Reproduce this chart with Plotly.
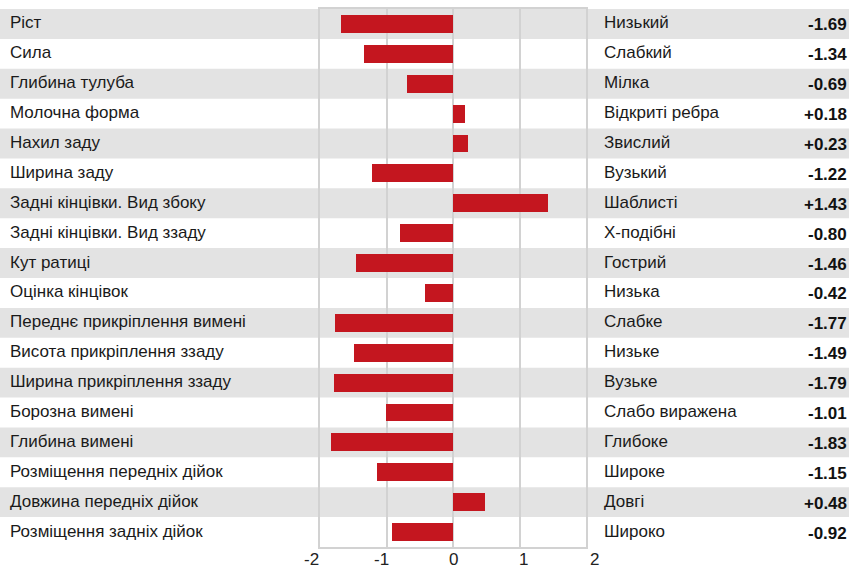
import plotly.graph_objects as go

traits = ["Ріст", "Сила", "Глибина тулуба", "Молочна форма", "Нахил заду", "Ширина заду",
          "Задні кінцівки. Вид збоку", "Задні кінцівки. Вид ззаду", "Кут ратиці", "Оцінка кінцівок",
          "Переднє прикріплення вимені", "Висота прикріплення ззаду", "Ширина прикріплення ззаду",
          "Борозна вимені", "Глибина вимені", "Розміщення передніх дійок", "Довжина передніх дійок",
          "Розміщення задніх дійок"]
descriptors = ["Низький", "Слабкий", "Мілка", "Відкриті ребра", "Звислий", "Вузький", "Шаблисті",
               "Х-подібні", "Гострий", "Низька", "Слабке", "Низьке", "Вузьке", "Слабо виражена",
               "Глибоке", "Широке", "Довгі", "Широко"]
values = [-1.69, -1.34, -0.69, 0.18, 0.23, -1.22, 1.43, -0.80, -1.46, -0.42, -1.77, -1.49, -1.79,
          -1.01, -1.83, -1.15, 0.48, -0.92]
x_ticks = [-2, -1, 0, 1, 2]

W, H = 849, 569
ML, MR, MT, MB = 320, 263, 7, 22
PW = W - ML - MR
FAM = "Liberation Sans, Arial, sans-serif"

def px2paper(px):
    return (px - ML) / PW

idx = list(range(len(traits)))

fig = go.Figure(go.Bar(
    x=values, y=idx, orientation="h", width=0.6,
    marker=dict(color="#c4161f", line=dict(width=0)),
    hoverinfo="skip",
))

shapes = []
for i in idx:
    if i % 2 == 0:
        shapes.append(dict(type="rect", xref="paper", yref="y",
                           x0=px2paper(0), x1=px2paper(W), y0=i - 0.5, y1=i + 0.5,
                           fillcolor="#e3e3e3", line=dict(width=0), layer="below"))

annotations = []
font = dict(family=FAM, size=17, color="#1a1a1a")
for i in idx:
    annotations.append(dict(xref="paper", yref="y", x=px2paper(8), y=i, text=traits[i],
                            showarrow=False, xanchor="left", yanchor="middle", yshift=1, font=font))
    annotations.append(dict(xref="paper", yref="y", x=px2paper(602), y=i, text=descriptors[i],
                            showarrow=False, xanchor="left", yanchor="middle", yshift=1, font=font))
    v = values[i]
    vt = ("+" if v > 0 else "") + f"{v:.2f}"
    annotations.append(dict(xref="paper", yref="y", x=px2paper(849), y=i, text="<b>" + vt + "</b>",
                            showarrow=False, xanchor="right", yanchor="middle", yshift=-1,
                            font=dict(family=FAM, size=17, color="#111")))

# x tick labels (spread slightly wider than the grid, as in the reference)
for t in x_ticks:
    annotations.append(dict(xref="x", yref="paper", x=t, y=0, text=str(t), showarrow=False,
                            xanchor="center", yanchor="top", xshift=t * 4 - (1 if t < 0 else 0),
                            yshift=-1, font=dict(family=FAM, size=17, color="#222")))

fig.update_layout(
    width=W, height=H,
    margin=dict(l=ML, r=MR, t=MT, b=MB, pad=0),
    paper_bgcolor="white", plot_bgcolor="rgba(0,0,0,0)",
    showlegend=False, bargap=0,
    shapes=shapes, annotations=annotations,
    xaxis=dict(range=[-2, 2], tickvals=x_ticks, showticklabels=False,
               showgrid=True, gridcolor="#d2d2d2", gridwidth=2,
               zeroline=False, showline=True, mirror=True, linecolor="#d2d2d2", linewidth=2,
               ticks="", fixedrange=True),
    yaxis=dict(range=[len(traits) - 0.5, -0.5], showticklabels=False, showgrid=False,
               zeroline=False, showline=True, mirror=True, linecolor="#d2d2d2", linewidth=2,
               ticks="", fixedrange=True),
)

fig.write_html("out.html", config={"displayModeBar": False},
               post_script="document.body.style.margin='0';document.body.style.overflow='hidden';")
